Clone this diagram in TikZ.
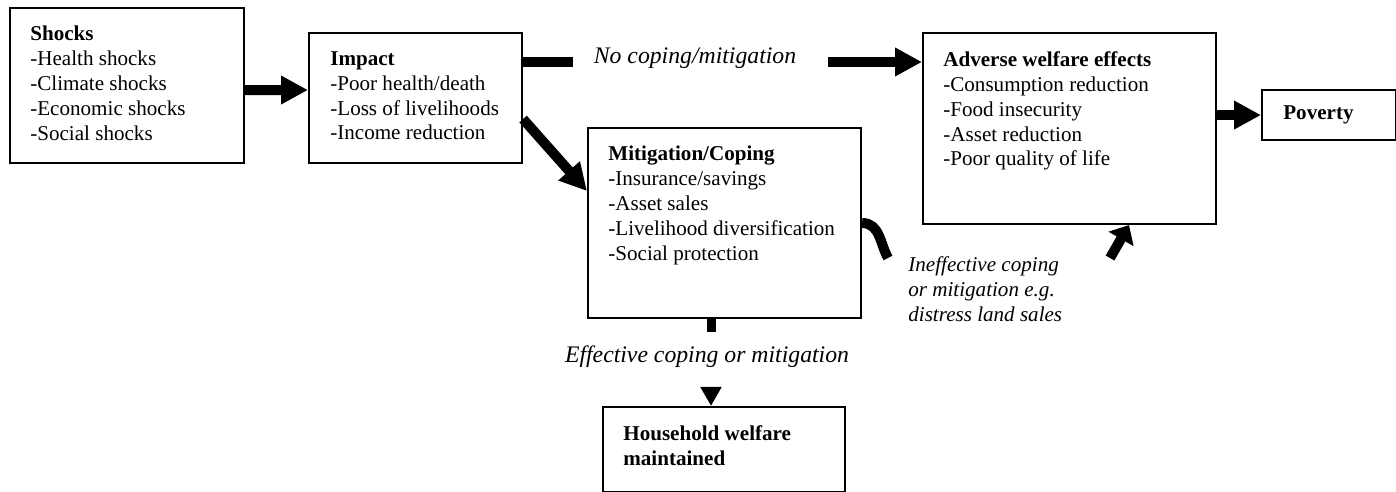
\documentclass[tikz,border=0pt]{standalone}
\usepackage{fontspec}
\setmainfont{Liberation Serif}
\usetikzlibrary{arrows.meta}

\tikzset{
  box/.style={draw,line width=1.2pt,anchor=north west,inner sep=0pt},
  txt/.style={anchor=north west,align=left,inner sep=0pt},
  lbl/.style={font=\fontsize{12}{14.2}\selectfont\itshape,inner sep=0pt},
  biglbl/.style={lbl,font=\fontsize{13.5}{16}\selectfont\itshape},
  fat/.style={line width=0.2cm},
  fathead/.style={fat,-{Triangle[length=0.54cm,width=0.54cm]}},
}

\begin{document}
\begin{tikzpicture}[x=0.02cm,y=-0.02cm,font=\fontsize{12}{14.2}\selectfont]
\useasboundingbox (0,0) rectangle (1396,492);

% boxes
\node[box,minimum width=4.68cm,minimum height=3.1cm] (shocks) at (9,7) {};
\node[box,minimum width=4.26cm,minimum height=2.6cm] (impact) at (308,32) {};
\node[box,minimum width=5.46cm,minimum height=3.8cm] (mitig) at (587,127) {};
\node[box,minimum width=5.86cm,minimum height=3.82cm] (adverse) at (922,32) {};
\node[box,minimum width=2.68cm,minimum height=1cm] (poverty) at (1261,89) {};
\node[box,minimum width=4.84cm,minimum height=1.7cm] (house) at (602,406) {};

% box texts
\node[txt] at ([shift={(0.42cm,-0.38cm)}]shocks.north west)
  {\textbf{Shocks}\\-Health shocks\\-Climate shocks\\-Economic shocks\\-Social shocks};
\node[txt] at ([shift={(0.44cm,-0.38cm)}]impact.north west)
  {\textbf{Impact}\\-Poor health/death\\-Loss of livelihoods\\-Income reduction};
\node[txt] at ([shift={(0.42cm,-0.38cm)}]mitig.north west)
  {\textbf{Mitigation/Coping}\\-Insurance/savings\\-Asset sales\\-Livelihood diversification\\-Social protection};
\node[txt] at ([shift={(0.42cm,-0.38cm)}]adverse.north west)
  {\textbf{Adverse welfare effects}\\-Consumption reduction\\-Food insecurity\\-Asset reduction\\-Poor quality of life};
\node[txt,anchor=west] at ([xshift=0.44cm]poverty.west) {\textbf{Poverty}};
\node[txt] at ([shift={(0.42cm,-0.38cm)}]house.north west)
  {\textbf{Household welfare}\\\textbf{maintained}};

% labels
\node[biglbl] (nocope) at (695,58) {No coping/mitigation};
\node[biglbl] (effect) at (707,357) {Effective coping or mitigation};
\node[lbl,anchor=north west,align=left] (ineff) at (908,256)
  {Ineffective coping\\or mitigation e.g.\\distress land sales};

\coordinate (nc-a) at (573,62);
\coordinate (nc-b) at (828,62);
\coordinate (eff-a) at (711,332);
\coordinate (eff-b) at (711,387);
\coordinate (in-a) at (888,258);
\coordinate (in-b) at (1110,258);

% connectors
\draw[fathead] ([yshift=-0.09cm]shocks.east) -- ([yshift=0.16cm]impact.west);
\draw[fat] (impact.east |- nc-a) -- (nc-a);
\draw[fathead] (nc-b) -- (adverse.west |- nc-b);
\draw[fathead] ([yshift=-0.42cm]impact.east) -- ([yshift=0.64cm]mitig.west);
\draw[fathead] (adverse.east |- poverty.west) -- (poverty.west);
\draw[line width=0.18cm] (mitig.south -| eff-a) -- (eff-a);
\draw[line width=0.18cm,-{Triangle[length=0.38cm,width=0.4cm]}] (eff-b) -- (house.north -| eff-b);
\draw[fat] (mitig.east) .. controls +(18,0) and +(-8,-14) .. (in-a);
\draw[fat,-{Triangle[length=0.32cm,width=0.56cm]}] (in-b) -- ([xshift=1.19cm]adverse.south);

\end{tikzpicture}
\end{document}
